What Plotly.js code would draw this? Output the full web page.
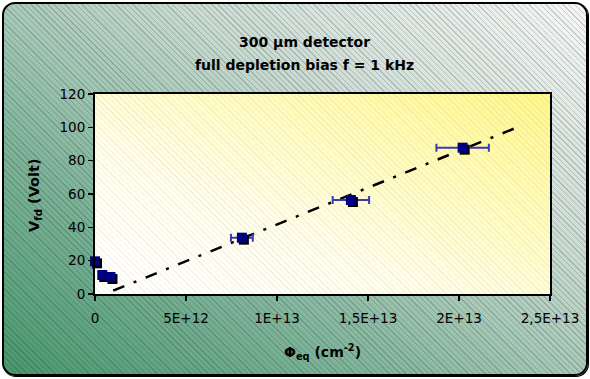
<!DOCTYPE html>
<html>
<head>
<meta charset="utf-8">
<script src="https://cdn.plot.ly/plotly-3.0.1.min.js"></script>
<style>
  html, body { margin: 0; padding: 0; background: #ffffff; }
  #wrap { position: relative; width: 590px; height: 379px; overflow: hidden; }
  #frame {
    position: absolute; left: 2px; top: 2px; width: 582px; height: 370px;
    border: 2px solid #000; border-radius: 13px;
    box-shadow: 1px 1px 0 #000;
    background:
      repeating-linear-gradient(45deg, rgba(100,110,105,0.30) 0px, rgba(100,110,105,0.30) 1px, rgba(255,255,255,0.12) 1px, rgba(255,255,255,0.12) 4px),
      linear-gradient(to top right, #2f8a5a 0%, #72ac90 33%, #c3d6cc 65%, #f5f6f5 100%);
  }
  #plotbg {
    position: absolute; left: 95px; top: 94px; width: 455px; height: 200px;
    background:
      repeating-linear-gradient(45deg, rgba(150,150,150,0.12) 0px, rgba(150,150,150,0.12) 1px, rgba(255,255,255,0) 1px, rgba(255,255,255,0) 4px),
      linear-gradient(to top right, #ffffff 0%, #fffeec 35%, #fffbb5 72%, #fff78a 100%);
  }
  #chart { position: absolute; left: 0; top: 0; width: 590px; height: 379px; }
</style>
</head>
<body>
<div id="wrap">
  <div id="frame"></div>
  <div id="plotbg"></div>
  <div id="chart"></div>
</div>
<script>
// Measured data (fluence in cm^-2, full depletion voltage in Volt)
var fluence    = [0, 0.4e12, 0.85e12, 8.07e12, 14.06e12, 20.2e12];
var vfd        = [19.6, 11.4, 10.2, 33.8, 56.4, 87.8];
var fluenceErr = [0, 0, 0, 0.6e12, 1.0e12, 1.44e12];

// Linear fit line end points
var fitX = [1.0e12, 2.32e13];
var fitY = [2, 100];

// Axis ticks
var xTickVals = [0, 5e12, 1e13, 1.5e13, 2e13, 2.5e13];
var xTickText = ["0", "5E+12", "1E+13", "1,5E+13", "2E+13", "2,5E+13"];
var yTickVals = [0, 20, 40, 60, 80, 100, 120];

// Texts
var titleLine1 = "300 µm detector";
var titleLine2 = "full depletion bias f = 1 kHz";
var xTitle = "Φ<sub>eq</sub> (cm<sup>-2</sup>)";
var yTitle = "V<sub>fd</sub> (Volt)";

var FONT = "DejaVu Sans, Liberation Sans, sans-serif";

var traces = [
  {
    x: fitX, y: fitY, mode: "lines", type: "scatter",
    line: { color: "#000000", width: 2.5, dash: "12px,10px,3px,10px" },
    hoverinfo: "skip", showlegend: false
  },
  {
    x: fluence, y: vfd, mode: "markers", type: "scatter", cliponaxis: false,
    marker: { symbol: "square", size: 10, color: "#000080", line: { width: 0 } },
    error_x: { type: "data", array: fluenceErr, visible: true, color: "#3b3bb0", thickness: 2, width: 4 },
    showlegend: false
  }
];

function ann(text, x, y, size, angle) {
  return {
    text: "<b>" + text + "</b>", x: x, y: y, xref: "paper", yref: "paper",
    xanchor: "center", yanchor: "middle", showarrow: false, textangle: angle || 0,
    font: { family: FONT, size: size, color: "#000" }
  };
}

var layout = {
  width: 590, height: 379,
  margin: { l: 95, r: 40, t: 94, b: 85, pad: 0 },
  paper_bgcolor: "rgba(0,0,0,0)",
  plot_bgcolor: "rgba(0,0,0,0)",
  font: { family: FONT, size: 13, color: "#000000" },
  showlegend: false,
  annotations: [
    ann(titleLine1, 0.4615, 1.26, 14),
    ann(titleLine2, 0.4615, 1.145, 14),
    ann(xTitle, 0.499, -0.29, 14),
    ann(yTitle, -0.132, 0.495, 14.5, -90)
  ],
  xaxis: {
    range: [0, 2.5e13],
    tickmode: "array", tickvals: xTickVals, ticktext: xTickText,
    ticks: "outside", ticklen: 5, tickwidth: 1.5, tickcolor: "#000",
    ticklabelstandoff: 6,
    showgrid: false, zeroline: false,
    showline: true, linecolor: "#000", linewidth: 2, mirror: true,
    tickfont: { family: FONT, size: 13.5, color: "#000" },
    fixedrange: true
  },
  yaxis: {
    range: [0, 120],
    tickmode: "array", tickvals: yTickVals,
    ticks: "outside", ticklen: 5, tickwidth: 1.5, tickcolor: "#000",
    ticklabelstandoff: 0,
    showgrid: false, zeroline: false,
    showline: true, linecolor: "#000", linewidth: 2, mirror: true,
    tickfont: { family: FONT, size: 13.5, color: "#000" },
    fixedrange: true
  }
};

Plotly.newPlot("chart", traces, layout, { displayModeBar: false, staticPlot: true }).then(function (gd) {
  // Excel-style drop shadow behind the square markers
  var pts = gd.querySelectorAll(".scatterlayer .trace:last-child .points path.point");
  pts.forEach(function (p) {
    var s = p.cloneNode(true);
    s.setAttribute("class", "shadow");
    s.style.fill = "#000";
    s.style.opacity = "1";
    var tr = p.getAttribute("transform") || "";
    s.setAttribute("transform", tr + " translate(2,2)");
    p.parentNode.insertBefore(s, p);
  });
});
</script>
</body>
</html>
